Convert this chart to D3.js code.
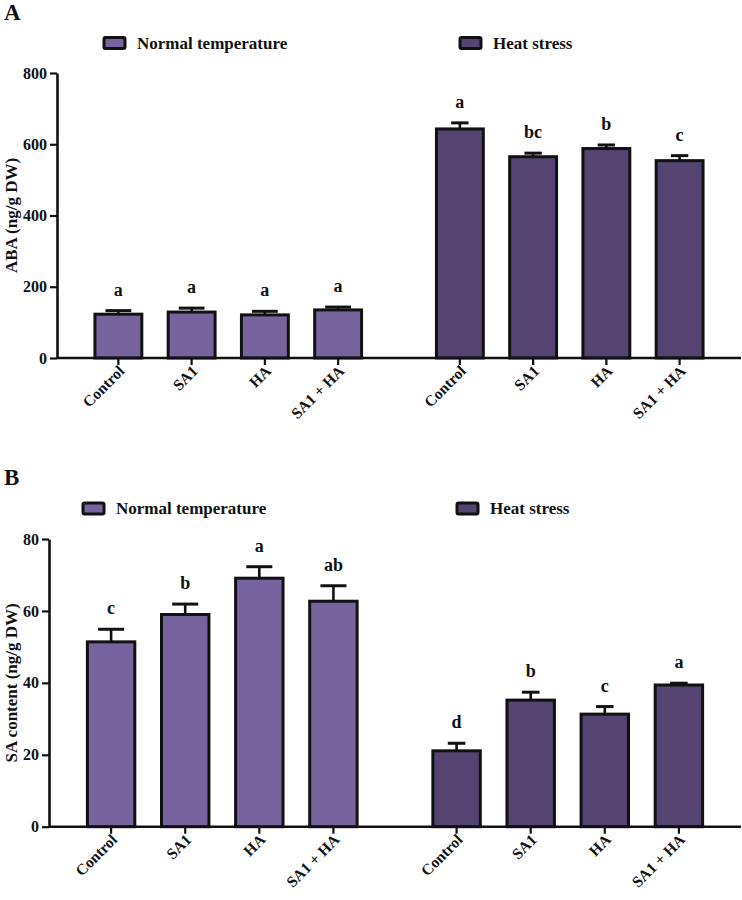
<!DOCTYPE html>
<html>
<head>
<meta charset="utf-8">
<script src="https://cdn.jsdelivr.net/npm/d3@7"></script>
<style>
  html, body { margin: 0; padding: 0; background: #fff; }
  svg { display: block; font-family: "Liberation Serif", "Times New Roman", serif; font-weight: bold; }
</style>
</head>
<body>
<svg id="chart" width="742" height="900"></svg>
<script>
// ---------- data ----------
const categories = ["Control", "SA1", "HA", "SA1 + HA"];
const groups = ["Normal temperature", "Heat stress"];

const abaNormal = [123, 129, 121, 135];
const abaNormalErr = [10, 11, 10, 8];
const abaNormalSig = ["a", "a", "a", "a"];
const abaHeat = [643, 565, 588, 554];
const abaHeatErr = [17, 10, 10, 14];
const abaHeatSig = ["a", "bc", "b", "c"];
const abaTicks = [0, 200, 400, 600, 800];

const saNormal = [51.4, 59.0, 69.1, 62.7];
const saNormalErr = [3.5, 2.9, 3.2, 4.3];
const saNormalSig = ["c", "b", "a", "ab"];
const saHeat = [21.1, 35.2, 31.3, 39.4];
const saHeatErr = [2.1, 2.2, 2.1, 0.5];
const saHeatSig = ["d", "b", "c", "a"];
const saTicks = [0, 20, 40, 60, 80];

const colors = ["#77649f", "#554472"];
const capFrac = [0.55, 0.37];

const svg = d3.select("#chart");

function panel(cfg) {
  const g = svg.append("g");
  const y = d3.scaleLinear().domain([0, cfg.max]).range([cfg.bottom, cfg.top]);
  const xOuter = d3.scaleBand().domain(groups).range([cfg.left, 741])
    .paddingInner(0.142).paddingOuter(0.0725);
  const xInner = d3.scaleBand().domain(categories).range([0, xOuter.bandwidth()])
    .paddingInner(0.36).paddingOuter(0.18);

  const series = [
    {grp: groups[0], vals: cfg.normal, err: cfg.normalErr, sig: cfg.normalSig, ci: 0},
    {grp: groups[1], vals: cfg.heat, err: cfg.heatErr, sig: cfg.heatSig, ci: 1}
  ];

  series.forEach(s => {
    const data = categories.map((c, i) => ({c, v: s.vals[i], e: s.err[i], l: s.sig[i]}));
    const gg = g.append("g").attr("transform", `translate(${xOuter(s.grp)},0)`);
    const bw = xInner.bandwidth();
    const cw = bw * capFrac[s.ci];
    gg.selectAll("line.eb").data(data).join("line")
      .attr("x1", d => xInner(d.c) + bw / 2).attr("x2", d => xInner(d.c) + bw / 2)
      .attr("y1", d => y(d.v)).attr("y2", d => y(d.v + d.e))
      .attr("stroke", "#111").attr("stroke-width", 2.6);
    gg.selectAll("line.cap").data(data).join("line")
      .attr("x1", d => xInner(d.c) + bw / 2 - cw / 2).attr("x2", d => xInner(d.c) + bw / 2 + cw / 2)
      .attr("y1", d => y(d.v + d.e)).attr("y2", d => y(d.v + d.e))
      .attr("stroke", "#111").attr("stroke-width", 3);
    gg.selectAll("rect").data(data).join("rect")
      .attr("x", d => xInner(d.c)).attr("width", bw)
      .attr("y", d => y(d.v)).attr("height", d => y(0) - y(d.v))
      .attr("fill", colors[s.ci]).attr("stroke", "#111").attr("stroke-width", 3);
    gg.selectAll("text.sig").data(data).join("text")
      .attr("x", d => xInner(d.c) + bw / 2)
      .attr("y", d => y(d.v + d.e) - 15)
      .attr("text-anchor", "middle").attr("font-size", 18).attr("fill", "#111")
      .text(d => d.l);
    gg.selectAll("line.xt").data(data).join("line")
      .attr("x1", d => xInner(d.c) + bw / 2).attr("x2", d => xInner(d.c) + bw / 2)
      .attr("y1", cfg.bottom).attr("y2", cfg.bottom + 7)
      .attr("stroke", "#111").attr("stroke-width", 2.2);
    gg.selectAll("text.xl").data(data).join("text")
      .attr("transform", d => `translate(${xInner(d.c) + bw / 2 + 7},${cfg.bottom + 14}) rotate(-45)`)
      .attr("text-anchor", "end").attr("font-size", 15.5).attr("fill", "#111")
      .text(d => d.c);
  });

  g.append("line").attr("x1", cfg.left).attr("x2", 741).attr("y1", cfg.bottom).attr("y2", cfg.bottom)
    .attr("stroke", "#111").attr("stroke-width", 2.6);
  const yAxis = g.append("g").attr("transform", `translate(${cfg.left},0)`)
    .call(d3.axisLeft(y).tickValues(cfg.ticks).tickSize(7).tickPadding(3).tickSizeOuter(0));
  yAxis.select(".domain").attr("stroke", "#111").attr("stroke-width", 2.6);
  yAxis.selectAll(".tick line").attr("stroke", "#111").attr("stroke-width", 2.2);
  yAxis.selectAll(".tick text").attr("font-size", 16).attr("fill", "#111")
    .attr("font-family", "Liberation Serif").attr("font-weight", "bold");

  g.append("text")
    .attr("transform", `translate(17,${(cfg.top + cfg.bottom) / 2}) rotate(-90)`)
    .attr("text-anchor", "middle").attr("font-size", 17).attr("fill", "#111")
    .text(cfg.title);

  g.append("text").attr("x", 4).attr("y", cfg.letterY).attr("font-size", 23).attr("fill", "#111")
    .text(cfg.letter);

  groups.forEach((gr, i) => {
    const lx = cfg.legendX[i];
    g.append("rect").attr("x", lx).attr("y", cfg.legendY - 11).attr("width", 21).attr("height", 11)
      .attr("rx", 1.5).attr("fill", colors[i]).attr("stroke", "#111").attr("stroke-width", 3);
    g.append("text").attr("x", lx + 33).attr("y", cfg.legendY).attr("font-size", 17).attr("fill", "#111")
      .text(gr);
  });
}

panel({
  letter: "A", letterY: 20,
  left: 57, top: 73, bottom: 358, max: 800, ticks: abaTicks,
  normal: abaNormal, normalErr: abaNormalErr, normalSig: abaNormalSig,
  heat: abaHeat, heatErr: abaHeatErr, heatSig: abaHeatSig,
  title: "ABA (ng/g DW)",
  legendX: [104, 460], legendY: 48.5
});

panel({
  letter: "B", letterY: 485,
  left: 49, top: 539, bottom: 826.7, max: 80, ticks: saTicks,
  normal: saNormal, normalErr: saNormalErr, normalSig: saNormalSig,
  heat: saHeat, heatErr: saHeatErr, heatSig: saHeatSig,
  title: "SA content (ng/g DW)",
  legendX: [83, 457], legendY: 514
});
</script>
</body>
</html>
